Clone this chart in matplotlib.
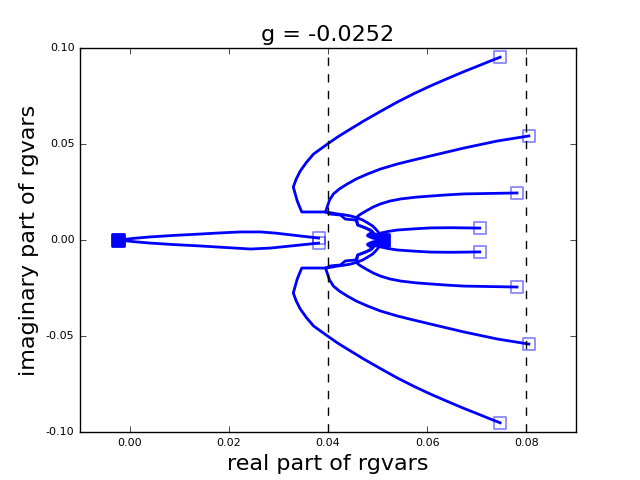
import numpy as np
import matplotlib
matplotlib.use("Agg")
import matplotlib.pyplot as plt
from matplotlib.markers import MarkerStyle

plt.style.use('classic')
plt.rcParams['axes.unicode_minus'] = False

g_value = -0.0252
start_left = (-0.0023, 0.0)
start_center = (0.051, 0.0)
dashed_x = [0.04, 0.08]

# flows from the left start point
flow_a_up_x = [-0.0023, 0.0010, 0.0041, 0.0090, 0.0142, 0.0183, 0.0223, 0.0264, 0.0294, 0.0334, 0.0381]
flow_a_up_y = [0.0, 0.0009, 0.0016, 0.0024, 0.0031, 0.0037, 0.0042, 0.0042, 0.0036, 0.0024, 0.0010]
flow_a_dn_x = [-0.0023, 0.0010, 0.0041, 0.0090, 0.0142, 0.0193, 0.0244, 0.0284, 0.0314, 0.0344, 0.0381]
flow_a_dn_y = [0.0, -0.0009, -0.0016, -0.0024, -0.0031, -0.0039, -0.0047, -0.0042, -0.0034, -0.0026, -0.0016]

# flows from the central start point (upper half)
flow_1_x = [0.0510, 0.0508, 0.0504, 0.0498, 0.0490, 0.0480, 0.0470, 0.0458, 0.0446, 0.0433,
            0.0421, 0.0397, 0.0347, 0.0338, 0.0330, 0.0336, 0.0344, 0.0357, 0.0371, 0.0385,
            0.0399, 0.0419, 0.0439, 0.0472, 0.0506, 0.0538, 0.0573, 0.0607, 0.0641, 0.0674,
            0.0708, 0.0728, 0.0747]
flow_1_y = [0.0, 0.0016, 0.0031, 0.0052, 0.0073, 0.0089, 0.0104, 0.0116, 0.0125, 0.0131,
            0.0135, 0.0146, 0.0146, 0.0203, 0.0276, 0.0318, 0.0359, 0.0406, 0.0448, 0.0474,
            0.0500, 0.0536, 0.0568, 0.0620, 0.0670, 0.0716, 0.0762, 0.0803, 0.0841, 0.0877,
            0.0912, 0.0933, 0.0952]
flow_2_x = [0.0510, 0.0498, 0.0486, 0.0470, 0.0460, 0.0456, 0.0435, 0.0425, 0.0405,
            0.0395, 0.0399, 0.0403, 0.0411, 0.0423, 0.0439, 0.0457, 0.0480, 0.0506, 0.0540,
            0.0573, 0.0607, 0.0674, 0.0742, 0.0805]
flow_2_y = [0.0, 0.0021, 0.0052, 0.0068, 0.0078, 0.0104, 0.0109, 0.0130, 0.0135,
            0.0146, 0.0177, 0.0208, 0.0240, 0.0266, 0.0292, 0.0318, 0.0344, 0.0370, 0.0396,
            0.0417, 0.0438, 0.0479, 0.0516, 0.0542]
flow_3_x = [0.0510, 0.0498, 0.0480, 0.0490, 0.0476, 0.0460, 0.0458, 0.0460, 0.0466, 0.0480,
            0.0492, 0.0506, 0.0525, 0.0547, 0.0577, 0.0607, 0.0640, 0.0674, 0.0781]
flow_3_y = [0.0, 0.0016, 0.0026, 0.0042, 0.0063, 0.0078, 0.0109, 0.0124, 0.0135, 0.0156,
            0.0173, 0.0188, 0.0203, 0.0214, 0.0223, 0.0229, 0.0235, 0.0240, 0.0245]
flow_4_x = [0.0510, 0.0490, 0.0480, 0.0496, 0.0506, 0.0522, 0.0540, 0.0573, 0.0607, 0.0650, 0.0706]
flow_4_y = [0.0, 0.0010, 0.0021, 0.0026, 0.0036, 0.0045, 0.0052, 0.0058, 0.0063, 0.0064, 0.0062]

# lower half
flow_5_x = flow_1_x
flow_5_y = [-0.0, -0.0016, -0.0031, -0.0052, -0.0073, -0.0089, -0.0104, -0.0116, -0.0125, -0.0131,
            -0.0135, -0.0146, -0.0146, -0.0203, -0.0276, -0.0318, -0.0359, -0.0406, -0.0448, -0.0474,
            -0.0500, -0.0536, -0.0568, -0.0620, -0.0670, -0.0716, -0.0762, -0.0803, -0.0841, -0.0877,
            -0.0912, -0.0933, -0.0952]
flow_6_x = flow_2_x
flow_6_y = [-0.0, -0.0021, -0.0052, -0.0068, -0.0078, -0.0104, -0.0109, -0.0130, -0.0135,
            -0.0146, -0.0177, -0.0208, -0.0240, -0.0266, -0.0292, -0.0318, -0.0344, -0.0370, -0.0396,
            -0.0417, -0.0438, -0.0479, -0.0516, -0.0542]
flow_7_x = flow_3_x
flow_7_y = [-0.0, -0.0016, -0.0026, -0.0042, -0.0063, -0.0078, -0.0109, -0.0124, -0.0135, -0.0156,
            -0.0173, -0.0188, -0.0203, -0.0214, -0.0223, -0.0229, -0.0235, -0.0240, -0.0245]
flow_8_x = flow_4_x
flow_8_y = [-0.0, -0.0010, -0.0021, -0.0026, -0.0036, -0.0045, -0.0052, -0.0058, -0.0063, -0.0064, -0.0062]

flows = [(flow_a_up_x, flow_a_up_y), (flow_a_dn_x, flow_a_dn_y),
         (flow_1_x, flow_1_y), (flow_2_x, flow_2_y), (flow_3_x, flow_3_y), (flow_4_x, flow_4_y),
         (flow_5_x, flow_5_y), (flow_6_x, flow_6_y), (flow_7_x, flow_7_y), (flow_8_x, flow_8_y)]

fig = plt.figure(figsize=(6.4, 4.8), dpi=100, facecolor='white')
ax = fig.add_subplot(111)

sq = MarkerStyle('s', joinstyle='round')

for fx, fy in flows:
    ax.plot(fx, fy, color='b', lw=2, solid_joinstyle='round')
    ax.plot(fx[-1], fy[-1], marker=sq, ls='none', ms=8, mfc='none', mec='b', mew=1.2, alpha=0.5)

for s in (start_left, start_center):
    ax.plot(s[0], s[1], marker=sq, ls='none', ms=8, color='b', mec='b', mew=2)

for xv in dashed_x:
    ax.axvline(xv, color='k', ls='--', lw=1)

ax.set_xlim(-0.01, 0.09)
ax.set_ylim(-0.1, 0.1)
ax.set_xticks([0.0, 0.02, 0.04, 0.06, 0.08])
ax.set_yticks([-0.1, -0.05, 0.0, 0.05, 0.1])
ax.xaxis.set_major_formatter(matplotlib.ticker.FormatStrFormatter('%.2f'))
ax.yaxis.set_major_formatter(matplotlib.ticker.FormatStrFormatter('%.2f'))
ax.tick_params(labelsize=8)
ax.set_title('g = %.4f' % g_value, fontsize=16)
ax.set_xlabel('real part of rgvars', fontsize=16)
ax.set_ylabel('imaginary part of rgvars', fontsize=16)

fig.savefig('out.png', dpi=100, facecolor='white')
